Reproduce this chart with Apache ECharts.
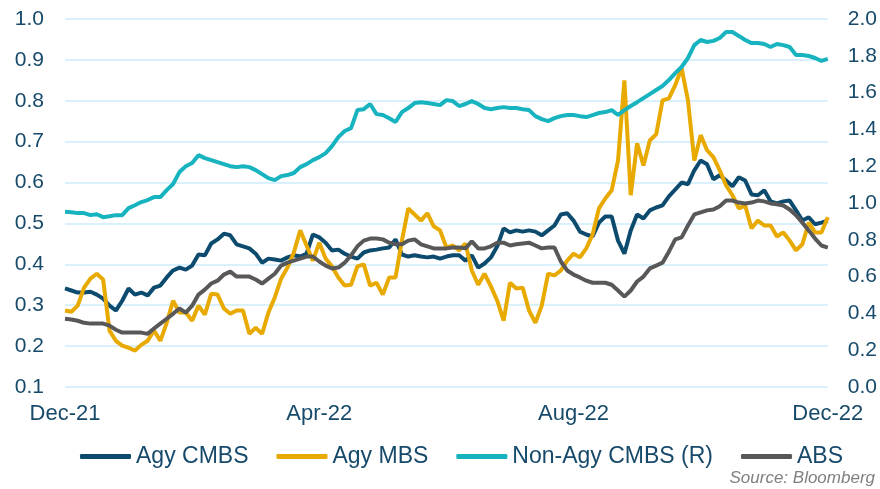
<!DOCTYPE html>
<html>
<head>
<meta charset="utf-8">
<script src="https://cdn.jsdelivr.net/npm/echarts@6/dist/echarts.min.js"></script>
<style>
    html, body { margin: 0; padding: 0; background: #fff; }
    #main { width: 880px; height: 489px; }
</style>
</head>
<body>
<div id="main"></div>
<script>
// x axis: 121 points from Dec-21 to Dec-22, labels every 40 points
const tickLabels = ['Dec-21', 'Apr-22', 'Aug-22', 'Dec-22'];

const agyCmbs = [
    0.341, 0.336, 0.331, 0.331, 0.333, 0.326, 0.316, 0.299, 0.287, 0.311,
    0.341, 0.326, 0.331, 0.324, 0.343, 0.348, 0.368, 0.385, 0.392, 0.387,
    0.397, 0.424, 0.422, 0.451, 0.461, 0.475, 0.471, 0.449, 0.444, 0.439,
    0.426, 0.404, 0.414, 0.412, 0.409, 0.417, 0.422, 0.419, 0.426, 0.473,
    0.466, 0.453, 0.434, 0.436, 0.426, 0.419, 0.414, 0.429, 0.434, 0.436,
    0.439, 0.441, 0.461, 0.424, 0.419, 0.422, 0.419, 0.417, 0.419, 0.414,
    0.419, 0.422, 0.422, 0.409, 0.422, 0.392, 0.402, 0.417, 0.444, 0.488,
    0.478, 0.483, 0.480, 0.483, 0.480, 0.471, 0.483, 0.495, 0.522, 0.525,
    0.507, 0.480, 0.473, 0.468, 0.502, 0.517, 0.517, 0.458, 0.426, 0.483,
    0.522, 0.512, 0.532, 0.539, 0.544, 0.566, 0.583, 0.600, 0.596, 0.630,
    0.654, 0.645, 0.608, 0.618, 0.605, 0.591, 0.613, 0.605, 0.571, 0.569,
    0.581, 0.554, 0.549, 0.554, 0.556, 0.532, 0.507, 0.515, 0.498, 0.502, 0.507
];

const agyMbs = [
    0.287, 0.284, 0.299, 0.343, 0.365, 0.377, 0.363, 0.238, 0.213, 0.201,
    0.196, 0.189, 0.203, 0.213, 0.238, 0.213, 0.257, 0.311, 0.282, 0.282,
    0.262, 0.299, 0.277, 0.328, 0.326, 0.292, 0.279, 0.287, 0.287, 0.230,
    0.245, 0.230, 0.282, 0.319, 0.365, 0.392, 0.429, 0.483, 0.446, 0.409,
    0.453, 0.414, 0.395, 0.368, 0.348, 0.350, 0.395, 0.400, 0.348, 0.355,
    0.326, 0.368, 0.368, 0.458, 0.537, 0.522, 0.507, 0.525, 0.493, 0.483,
    0.441, 0.446, 0.434, 0.451, 0.385, 0.350, 0.377, 0.346, 0.311, 0.262,
    0.355, 0.341, 0.343, 0.287, 0.257, 0.299, 0.377, 0.373, 0.385, 0.409,
    0.426, 0.417, 0.439, 0.473, 0.537, 0.561, 0.581, 0.654, 0.850, 0.569,
    0.696, 0.642, 0.703, 0.718, 0.801, 0.806, 0.838, 0.880, 0.801, 0.654,
    0.716, 0.679, 0.662, 0.630, 0.593, 0.569, 0.537, 0.544, 0.488, 0.507,
    0.495, 0.495, 0.468, 0.478, 0.458, 0.434, 0.449, 0.502, 0.478, 0.478, 0.515
];

// right axis
const nonAgyCmbs = [
    0.952, 0.950, 0.945, 0.945, 0.934, 0.939, 0.923, 0.928, 0.934, 0.934,
    0.972, 0.988, 1.005, 1.016, 1.032, 1.032, 1.070, 1.103, 1.168, 1.200,
    1.217, 1.260, 1.244, 1.233, 1.222, 1.211, 1.200, 1.195, 1.200, 1.195,
    1.179, 1.157, 1.135, 1.124, 1.146, 1.152, 1.163, 1.195, 1.211, 1.233,
    1.249, 1.271, 1.309, 1.358, 1.391, 1.407, 1.505, 1.510, 1.538, 1.483,
    1.478, 1.461, 1.440, 1.494, 1.516, 1.543, 1.548, 1.543, 1.538, 1.532,
    1.559, 1.554, 1.527, 1.538, 1.554, 1.538, 1.516, 1.510, 1.516, 1.521,
    1.516, 1.516, 1.510, 1.505, 1.472, 1.456, 1.445, 1.461, 1.472, 1.478,
    1.478, 1.472, 1.467, 1.478, 1.489, 1.494, 1.505, 1.478, 1.505, 1.527,
    1.548, 1.570, 1.592, 1.614, 1.636, 1.668, 1.706, 1.739, 1.788, 1.858,
    1.886, 1.875, 1.881, 1.897, 1.929, 1.929, 1.908, 1.886, 1.869, 1.869,
    1.864, 1.848, 1.864, 1.858, 1.848, 1.804, 1.804, 1.799, 1.788, 1.772, 1.783
];

const abs = [
    0.267, 0.265, 0.262, 0.257, 0.255, 0.255, 0.255, 0.250, 0.240, 0.233,
    0.233, 0.233, 0.233, 0.230, 0.243, 0.255, 0.267, 0.279, 0.292, 0.282,
    0.299, 0.326, 0.338, 0.353, 0.360, 0.375, 0.382, 0.370, 0.370, 0.370,
    0.363, 0.353, 0.365, 0.377, 0.397, 0.404, 0.409, 0.414, 0.419, 0.419,
    0.407, 0.397, 0.390, 0.392, 0.404, 0.422, 0.444, 0.458, 0.463, 0.463,
    0.461, 0.453, 0.449, 0.449, 0.458, 0.461, 0.449, 0.444, 0.439, 0.439,
    0.439, 0.441, 0.441, 0.439, 0.456, 0.439, 0.439, 0.444, 0.453, 0.453,
    0.446, 0.449, 0.451, 0.453, 0.446, 0.439, 0.441, 0.441, 0.407, 0.385,
    0.375, 0.368, 0.360, 0.355, 0.355, 0.355, 0.350, 0.336, 0.321, 0.336,
    0.358, 0.370, 0.390, 0.397, 0.404, 0.431, 0.461, 0.466, 0.495, 0.522,
    0.527, 0.532, 0.534, 0.542, 0.556, 0.556, 0.551, 0.549, 0.551, 0.556,
    0.554, 0.549, 0.547, 0.544, 0.534, 0.520, 0.502, 0.483, 0.463, 0.446, 0.441
];

const FONT = 'Liberation Sans, Arial, sans-serif';
const TEXT = '#174a6a';

function pts(arr) {
    return arr.map((v, i) => [i, v]);
}

function line(name, arr, color, yAxisIndex) {
    return {
        name: name,
        type: 'line',
        yAxisIndex: yAxisIndex,
        data: pts(arr),
        showSymbol: false,
        symbol: 'none',
        lineStyle: { color: color, width: 4 },
        itemStyle: { color: color }
    };
}

const myChart = echarts.init(document.getElementById('main'));
const option = {
    animation: false,
    grid: { left: 65, right: 52, top: 19, height: 368 },
    xAxis: {
        type: 'value',
        min: 0,
        max: 120,
        interval: 40,
        axisLine: { show: false },
        axisTick: { show: false },
        splitLine: { show: false },
        axisLabel: {
            margin: 16,
            fontFamily: FONT,
            fontSize: 22,
            color: TEXT,
            formatter: function (v) { return tickLabels[v / 40]; }
        }
    },
    yAxis: [
        {
            type: 'value',
            min: 0.1,
            max: 1.0,
            interval: 0.1,
            axisLine: { show: false },
            axisTick: { show: false },
            axisLabel: {
                margin: 21,
                fontFamily: FONT,
                fontSize: 21,
                color: TEXT,
                formatter: function (v) { return v.toFixed(1); }
            },
            splitLine: { lineStyle: { color: '#cdedfb', width: 1.5 } }
        },
        {
            type: 'value',
            min: 0,
            max: 2.0,
            interval: 0.2,
            alignTicks: false,
            axisLine: { show: false },
            axisTick: { show: false },
            axisLabel: {
                margin: 20,
                fontFamily: FONT,
                fontSize: 21,
                color: TEXT,
                formatter: function (v) { return v.toFixed(1); }
            },
            splitLine: { show: false }
        }
    ],
    legend: {
        left: 80,
        top: 445,
        padding: 0,
        itemWidth: 51,
        itemHeight: 5,
        itemGap: 28,
        icon: 'roundRect',
        textStyle: { fontFamily: FONT, fontSize: 23, color: TEXT },
        data: ['Agy CMBS', 'Agy MBS', 'Non-Agy CMBS (R)', 'ABS']
    },
    graphic: [{
        type: 'text',
        right: 5,
        top: 470,
        style: {
            text: 'Source: Bloomberg',
            font: 'italic 17px Liberation Sans, Arial, sans-serif',
            fill: '#808080'
        }
    }],
    series: [
        line('Agy CMBS', agyCmbs, '#0c4a6e', 0),
        line('Agy MBS', agyMbs, '#e8a900', 0),
        line('Non-Agy CMBS (R)', nonAgyCmbs, '#17b3bf', 1),
        line('ABS', abs, '#585858', 0)
    ]
};
option && myChart.setOption(option);
</script>
</body>
</html>
